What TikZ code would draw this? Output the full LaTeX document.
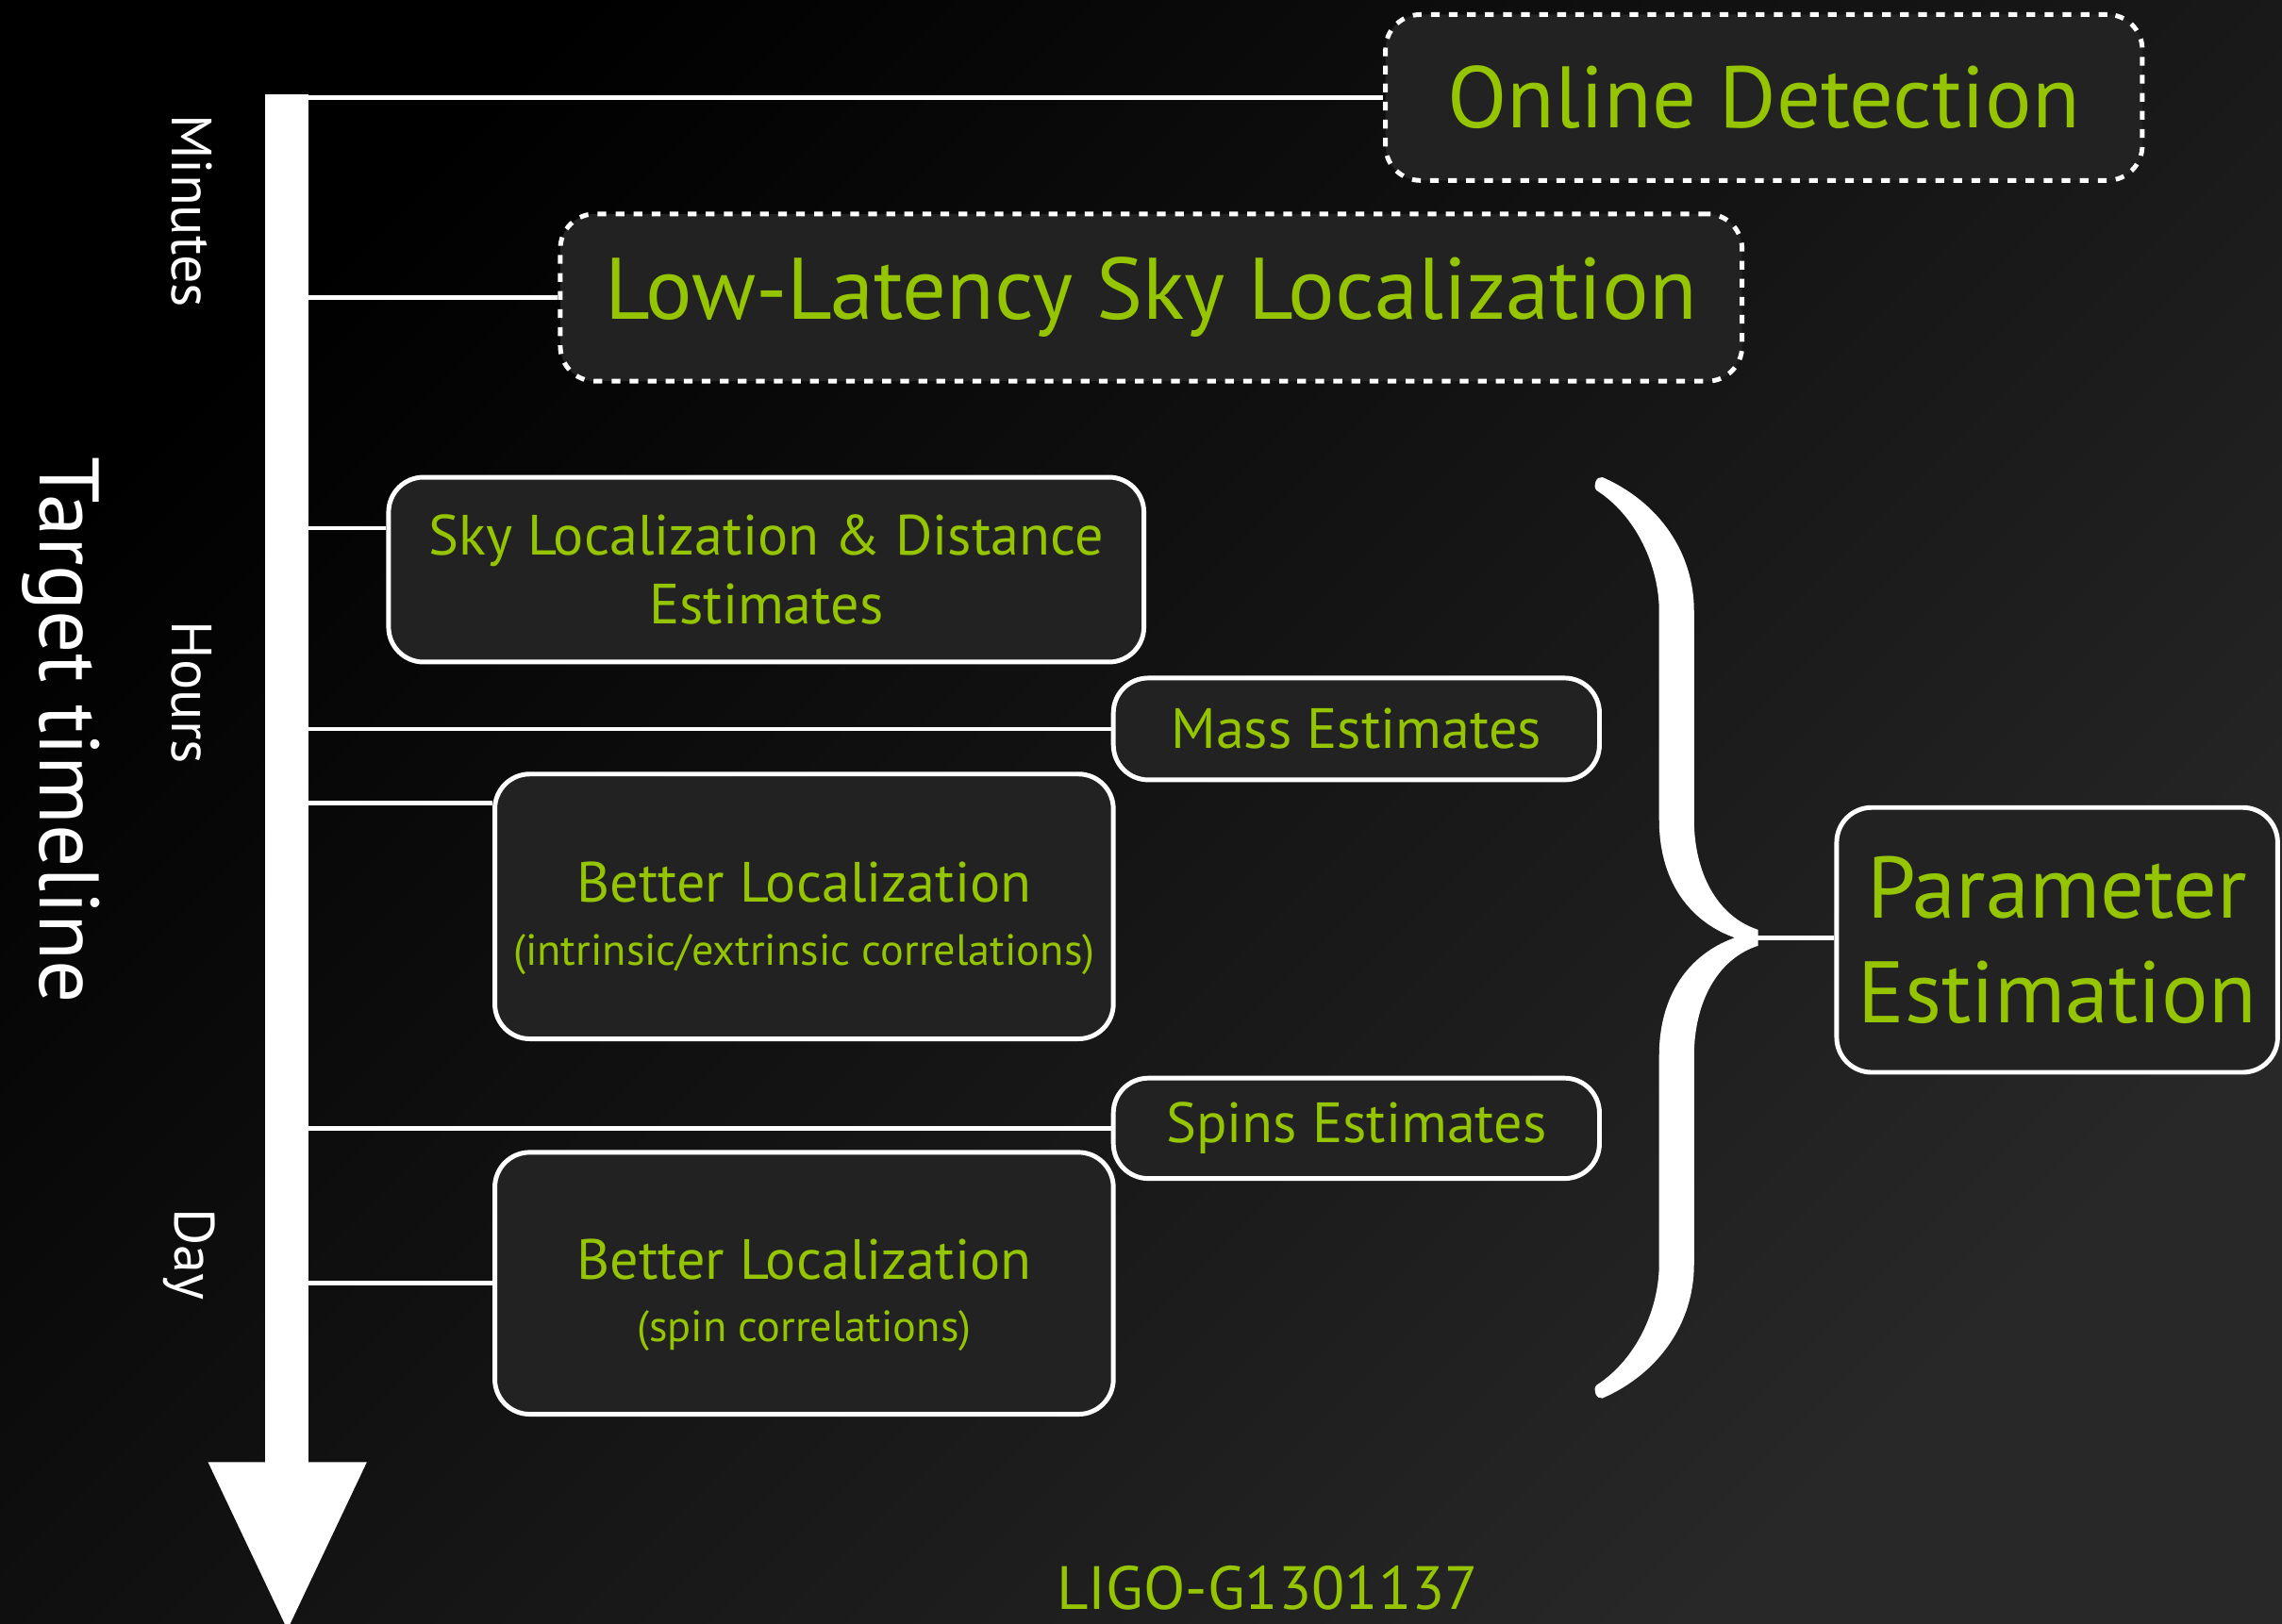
\documentclass[tikz,border=0pt]{standalone}
\usepackage{fontspec}
\setmainfont{PT Sans}
\usetikzlibrary{positioning,calc}
\definecolor{ligogreen}{RGB}{148,197,0}
\definecolor{boxfill}{RGB}{34,34,34}
\definecolor{bgdark}{RGB}{0,0,0}
\definecolor{bglight}{RGB}{40,40,40}

\begin{document}
\begin{tikzpicture}[
        x=0.5pt, y=-0.5pt,
        stage/.style={draw=white, fill=boxfill, line width=1.6pt, rounded corners=12pt, align=center, text=ligogreen, inner sep=0pt},
        dashstage/.style={stage, dash pattern=on 3pt off 3.2pt},
        bigtxt/.style={font=\fontsize{30}{36}\selectfont},
        midtxt/.style={font=\fontsize{19.5}{23.5}\selectfont},
        link/.style={draw=white, line width=1.5pt},
        timelbl/.style={text=white, rotate=-90, font=\fontsize{19.5}{22}\selectfont}
    ]
        % Background
        \clip (0,0) rectangle (1568,1116);
        \shade[top color=bgdark, bottom color=bglight, shading angle=45] (0,0) rectangle (1568,1116);

        % Timeline axis
        \fill[white] (182,65) rectangle (212,1010);
        \fill[white] (143,1005) -- (252,1005) -- (197.5,1120) -- cycle;
        \node[timelbl] (mins) at (132,145) {Minutes};
        \node[timelbl] (hrs) at (132,476) {Hours};
        \node[timelbl] (day) at (130,862) {Day};
        \node[timelbl, font=\fontsize{29}{34}\selectfont] (target) at (42,502) {Target timeline};

        % Stages
        \node[dashstage, bigtxt, minimum width=260pt, minimum height=57pt] (onl) at (1212,67) {Online Detection};
        \node[dashstage, bigtxt, minimum width=406pt, minimum height=57.5pt] (lowlat) at (791,204.5) {Low-Latency Sky Localization};
        \node[stage, midtxt, minimum width=259.5pt, minimum height=63.5pt] (skyloc) at (526.5,391.5) {Sky Localization \& Distance\\Estimates};
        \node[stage, midtxt, minimum width=167pt, minimum height=35pt] (mass) at (932,501) {Mass Estimates};
        \node[stage, midtxt, minimum width=212.5pt, minimum height=91pt] (betloc) at (552.5,623) {\rule{0pt}{22pt}Better Localization\\[-2pt]{\fontsize{15}{18}\selectfont (intrinsic/extrinsic correlations)}};
        \node[stage, midtxt, minimum width=167pt, minimum height=34.5pt] (spins) at (932,775.5) {Spins Estimates};
        \node[stage, midtxt, minimum width=212.5pt, minimum height=90pt] (betspin) at (552.5,882) {\rule{0pt}{22pt}Better Localization\\[-2pt]{\fontsize{15}{18}\selectfont (spin correlations)}};
        \node[stage, font=\fontsize{30}{36}\selectfont, minimum width=151.5pt, minimum height=91pt] (pe) at (1413.5,646) {Parameter\\Estimation};

        % Ticks from the timeline
        \coordinate (ax) at (211,0);
        \coordinate (t3) at (211,363);
        \coordinate (t5) at (211,552);
        \draw[link] (ax |- onl.west) -- (onl.west);
        \draw[link] (ax |- lowlat.west) -- (lowlat.west);
        \draw[link] (t3) -- (t3 -| skyloc.west);
        \draw[link] (ax |- mass.west) -- (mass.west);
        \draw[link] (t5) -- (t5 -| betloc.west);
        \draw[link] (ax |- spins.west) -- (spins.west);
        \draw[link] (ax |- betspin.west) -- (betspin.west);

        % Brace
        \fill[white] (1101,328) .. controls (1140,345) and (1164,380) .. (1164,420)
            -- (1164,563) .. controls (1164,600) and (1180,630) .. (1208,639)
            -- (1208,650) .. controls (1180,659) and (1164,689) .. (1164,726)
            -- (1164,869) .. controls (1164,909) and (1140,944) .. (1101,961)
            .. controls (1097,962) and (1094,955) .. (1097,952)
            .. controls (1125,934) and (1140,899) .. (1140,869)
            -- (1140,726) .. controls (1140,679) and (1165,654) .. (1192,644.5)
            .. controls (1165,635) and (1140,610) .. (1140,563)
            -- (1140,420) .. controls (1140,390) and (1125,355) .. (1097,337)
            .. controls (1094,334) and (1097,327) .. (1101,328) -- cycle;
        \coordinate (bracetip) at (1207,644.5);
        \draw[link] (bracetip) -- (bracetip -| pe.west);

        \node[text=ligogreen, font=\fontsize{21}{24}\selectfont, anchor=base, inner sep=0pt] (docid) at (871,1106) {LIGO-G1301137};
    \end{tikzpicture}
\end{document}
